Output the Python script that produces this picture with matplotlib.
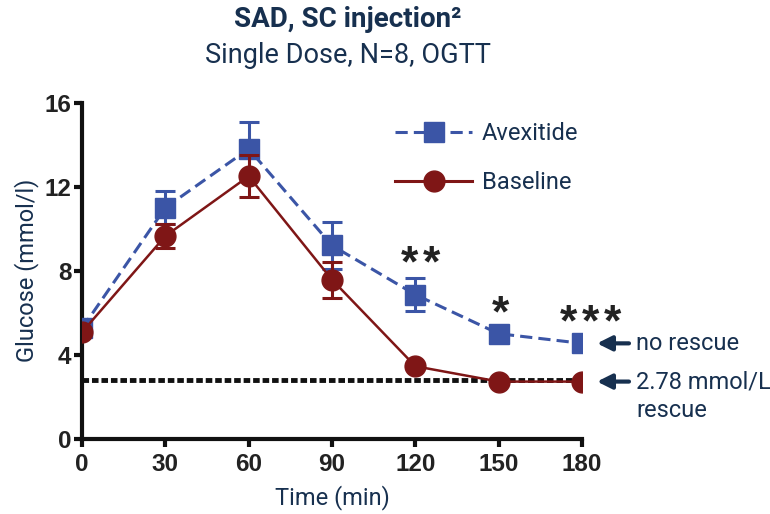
import numpy as np
import matplotlib
matplotlib.use("Agg")
import matplotlib.pyplot as plt
from matplotlib.lines import Line2D

# values (mmol/l)
time_min = [0, 30, 60, 90, 120, 150, 180]
avexitide = [5.25, 11.0, 13.8, 9.2, 6.86, 5.0, 4.54]
avexitide_err = [0.0, 0.8, 1.3, 1.1, 0.8, 0.0, 0.0]
baseline = [5.07, 9.65, 12.5, 7.57, 3.45, 2.72, 2.72]
baseline_err = [0.0, 0.55, 1.0, 0.85, 0.0, 0.0, 0.0]
rescue_level = 2.78
star_counts = [2, 1, 3]
star_x = [121.7, 150.5, 183.0]
star_y = [8.83, 6.43, 6.03]

blue = '#3b55a6'
red = '#7f1616'
navy = '#17304f'

fig = plt.figure(figsize=(7.7, 5.14), dpi=100)
ax = fig.add_axes([0.1065, 0.1465, 0.6494, 0.6537])

ax.plot([0, 180], [rescue_level, rescue_level], color='#111111', lw=3.5,
        linestyle=(0, (1.35, 0.6)), zorder=2)

ax.errorbar(time_min, avexitide, yerr=avexitide_err, color=blue, lw=2.2,
            ls=(0, (4, 2)), marker='s', ms=15, elinewidth=2.2, capsize=7.5,
            capthick=2.2, zorder=3)
ax.errorbar(time_min, baseline, yerr=baseline_err, color=red, lw=1.8,
            marker='o', ms=15, elinewidth=2.2, capsize=7.5, capthick=2.2,
            zorder=4)

# significance stars, one glyph at a time so they can be spaced out
star_fs = 32
step = 16.0
for n, x, y in zip(star_counts, star_x, star_y):
    for i in range(n):
        dx = (i - (n - 1) / 2) * step
        ax.annotate('*', xy=(x, y), xytext=(dx, -0.52 * star_fs),
                    textcoords='offset points', ha='center', va='baseline',
                    fontsize=star_fs, color='#222222', fontweight='bold',
                    fontfamily='Liberation Sans', annotation_clip=False)

ax.set_xlim(0, 180)
ax.set_ylim(0, 16)
ax.set_xticks(time_min)
ax.set_yticks([0, 4, 8, 12, 16])
for lab in ax.get_xticklabels() + ax.get_yticklabels():
    lab.set_fontfamily('Liberation Sans')
    lab.set_fontweight('bold')
    lab.set_fontsize(17.5)
    lab.set_color('#222222')
ax.tick_params(width=3, length=5.5, color='#111111')
ax.tick_params(axis='x', pad=5)
ax.tick_params(axis='y', pad=2)
for side in ['top', 'right']:
    ax.spines[side].set_visible(False)
for side in ['left', 'bottom']:
    ax.spines[side].set_linewidth(3)
    ax.spines[side].set_color('#111111')

ax.set_xlabel('Time (min)', fontsize=17, color=navy, fontfamily='Roboto', labelpad=6)
ax.set_ylabel('Glucose (mmol/l)', fontsize=17, color=navy, fontfamily='Roboto', labelpad=4)

fig.text(0.452, 1 - 27 / 514, 'SAD, SC injection\u00b2', ha='center', va='baseline',
         fontsize=20, fontweight='bold', color=navy, fontfamily='Roboto')
fig.text(0.452, 1 - 63 / 514, 'Single Dose, N=8, OGTT', ha='center', va='baseline',
         fontsize=19.5, color=navy, fontfamily='Roboto')

handles = [
    Line2D([], [], color=blue, lw=2.2, ls=(0, (4, 2)), marker='s', ms=15),
    Line2D([], [], color=red, lw=2.2, marker='o', ms=15),
]
leg = ax.legend(handles, ['Avexitide', 'Baseline'], loc='upper left',
                bbox_to_anchor=(0.626, 0.942), frameon=False, borderpad=0,
                borderaxespad=0, handlelength=3.26, handletextpad=0.42,
                labelspacing=1.1, prop={'family': 'Roboto', 'size': 17})
for t in leg.get_texts():
    t.set_color(navy)

# arrows and notes on the right
ax.annotate('', xy=(185.4, 4.54), xytext=(196.9, 4.54), annotation_clip=False,
            arrowprops=dict(arrowstyle='-|>', color=navy, lw=3,
                            mutation_scale=22, shrinkA=0, shrinkB=0))
ax.annotate('', xy=(185.4, 2.72), xytext=(196.9, 2.72), annotation_clip=False,
            arrowprops=dict(arrowstyle='-|>', color=navy, lw=3,
                            mutation_scale=22, shrinkA=0, shrinkB=0))
ax.text(199.4, 4.54, 'no rescue', ha='left', va='center', fontsize=17,
        color=navy, fontfamily='Roboto', clip_on=False)
ax.text(199.4, 2.72, '2.78 mmol/L', ha='left', va='center', fontsize=17,
        color=navy, fontfamily='Roboto', clip_on=False)
ax.text(199.4, 1.35, 'rescue', ha='left', va='center', fontsize=17,
        color=navy, fontfamily='Roboto', clip_on=False)

plt.savefig('out.png', dpi=100)
